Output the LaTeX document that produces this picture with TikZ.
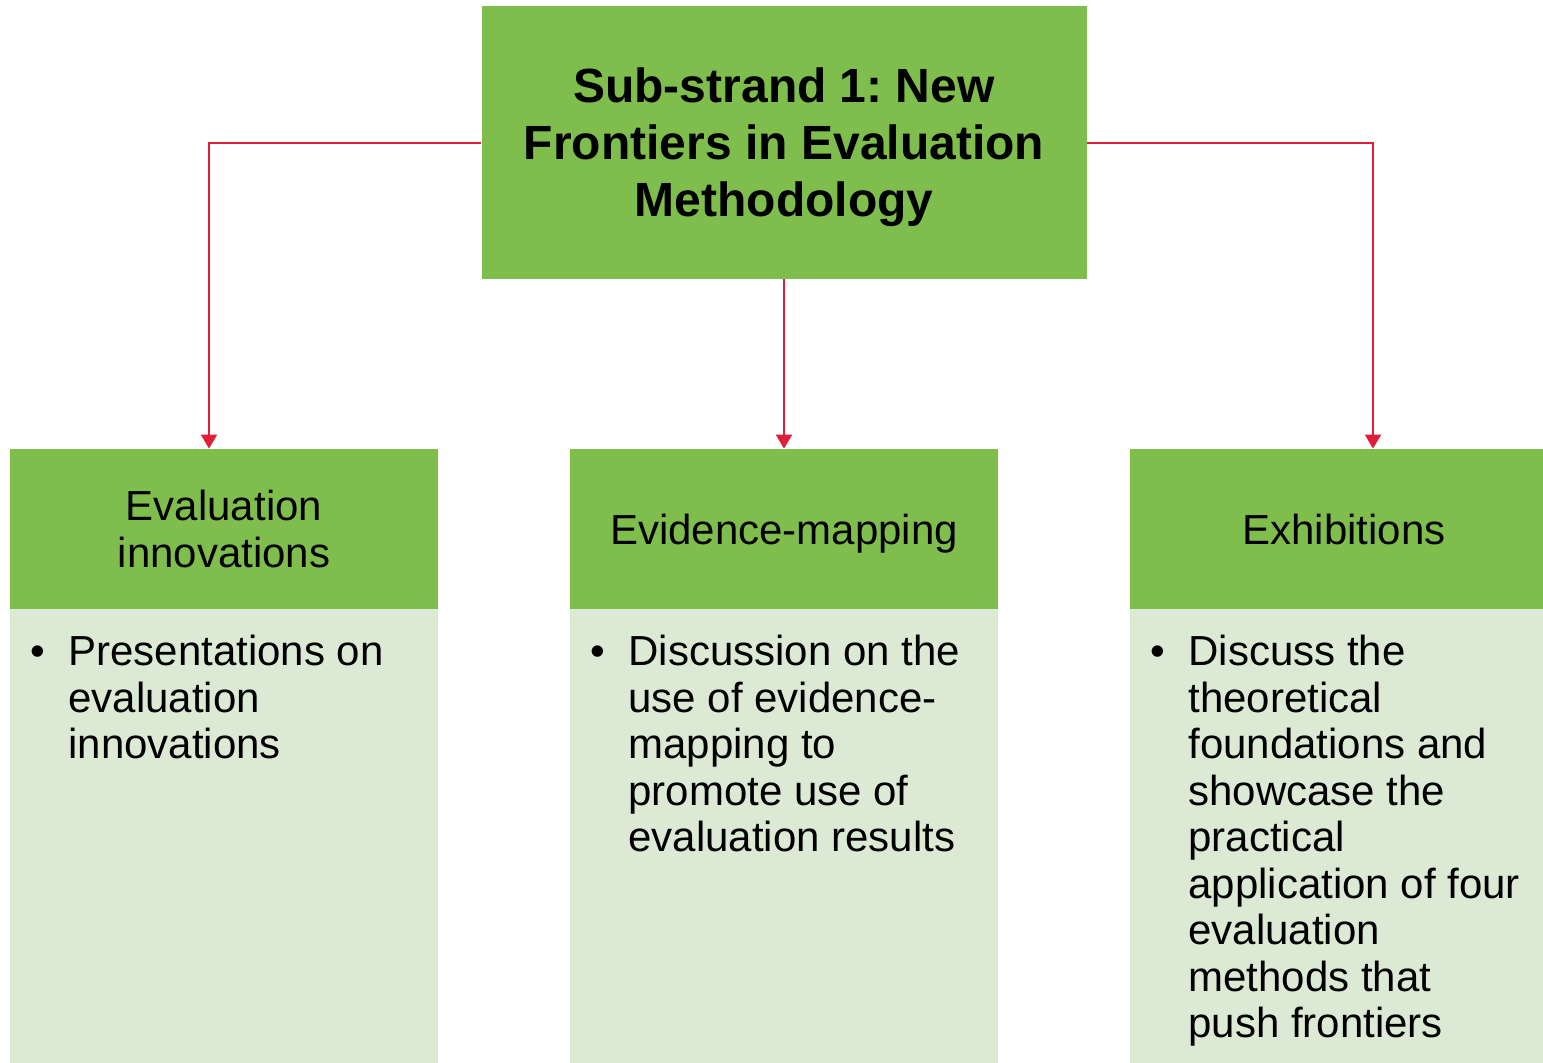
\documentclass[tikz,border=0pt]{standalone}
\usepackage{fontspec}
\setmainfont{Liberation Sans}
\usetikzlibrary{arrows.meta}
\frenchspacing

\definecolor{hdgreen}{RGB}{127,190,77}
\definecolor{bdgreen}{RGB}{219,233,213}
\definecolor{linkred}{RGB}{224,30,58}

\newcommand{\nodepth}[1]{\raisebox{0pt}[\height][0pt]{#1}}

\tikzset{
  topbox/.style={fill=hdgreen, minimum width=302.5pt, minimum height=136.5pt, inner sep=0pt,
    align=center, font=\fontsize{24}{28.5}\selectfont\bfseries},
  headbox/.style={fill=hdgreen, minimum width=214pt, minimum height=80pt, inner sep=0pt,
    align=center, font=\fontsize{21}{23.25}\selectfont},
  bodybox/.style={fill=bdgreen, minimum width=214pt, minimum height=235pt, inner sep=0pt, anchor=north},
  bodytext/.style={anchor=north west, inner sep=0pt, align=left, font=\fontsize{21}{23.25}\selectfont},
  dot/.style={anchor=base, inner sep=0pt, font=\fontsize{21}{23.25}\selectfont},
  link/.style={draw=linkred, line width=1pt, -{Triangle[width=8pt,length=7pt]}}
}

\begin{document}
\begin{tikzpicture}[x=0.5pt,y=-0.5pt]

\useasboundingbox (0,0) rectangle (1543,1062);

\node[topbox] (top) at (784,142.5) {Sub-strand 1: New\\Frontiers in Evaluation\\\nodepth{Methodology}};

% three columns
\node[bodybox] (evalbody) at (224,609) {};
\node[headbox] (evalhead) at (224,529) {Evaluation\\innovations};
\node[bodybox] (mapbody) at (784,609) {};
\node[headbox] (maphead) at (784,529) {\nodepth{Evidence-mapping}};
\node[bodybox] (exhbody) at (1344,609) {};
\node[headbox] (exhhead) at (1344,529) {Exhibitions};

\node[dot] (evaldot) at (38,665) {\textbullet};
\node[bodytext] (evaltext) at (68,635) {Presentations on\\evaluation\\innovations};
\node[dot] (mapdot) at (598,665) {\textbullet};
\node[bodytext] (maptext) at (628,635) {Discussion on the\\use of evidence-\\mapping to\\promote use of\\evaluation results};
\node[dot] (exhdot) at (1158,665) {\textbullet};
\node[bodytext] (exhtext) at (1188,635) {Discuss the\\theoretical\\foundations and\\showcase the\\practical\\application of four\\evaluation\\methods that\\push frontiers};

\draw[link] (top.west) -| ([xshift=-7.5pt]evalhead.north);
\draw[link] (top.south) -- (maphead.north);
\draw[link] (top.east) -| ([xshift=14.5pt]exhhead.north);

\end{tikzpicture}
\end{document}
